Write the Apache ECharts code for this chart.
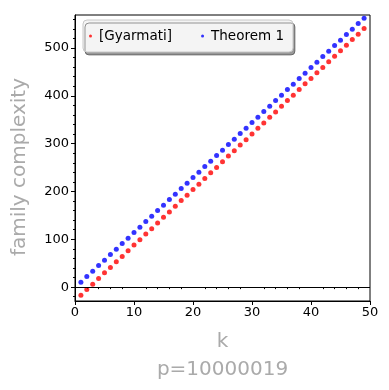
<!DOCTYPE html>
<html>
<head>
    <meta charset="utf-8"/>
    <style>
        html, body { margin: 0; padding: 0; background: #fff; }
        #main { width: 389px; height: 390px; }
    </style>
</head>
<body>
<div id="main"></div>
<script src="https://cdn.jsdelivr.net/npm/echarts@6/dist/echarts.min.js"></script>
<script type="text/javascript">
var ks = [];
for (var i = 1; i <= 49; i++) ks.push(i);

// [Gyarmati], k = 1..49
var gyarmati = [-17, -5, 6, 18, 30, 41, 53, 64, 76, 88,
    99, 111, 122, 134, 146, 157, 169, 181, 192, 204,
    215, 227, 239, 250, 262, 274, 285, 297, 308, 320,
    332, 343, 355, 366, 378, 390, 401, 413, 425, 436,
    448, 459, 471, 483, 494, 506, 518, 529, 541];
// Theorem 1, k = 1..49
var theorem1 = [10, 22, 33, 45, 56, 68, 79, 91, 102, 114,
    125, 137, 148, 160, 171, 183, 194, 206, 217, 229,
    240, 252, 263, 275, 286, 298, 309, 321, 332, 344,
    355, 367, 378, 390, 401, 413, 424, 436, 447, 459,
    470, 482, 493, 505, 516, 528, 539, 551, 562];

var yTicks = [0, 100, 200, 300, 400, 500];
var yMinor = [-20, 20, 40, 60, 80, 120, 140, 160, 180, 220, 240, 260, 280,
    320, 340, 360, 380, 420, 440, 460, 480, 520, 540, 560];
var xMinor = [2, 4, 6, 8, 12, 14, 16, 18, 22, 24, 26, 28, 32, 34, 36, 38, 42, 44, 46, 48];

var font = 'DejaVu Sans';
var yMin = -29, yMax = 569;

function pairs(vals) {
    var out = [];
    for (var i = 0; i < vals.length; i++) out.push([ks[i], vals[i]]);
    return out;
}

var myChart = echarts.init(document.getElementById('main'));

var option = {
    animation: false,
    textStyle: { fontFamily: font },
    grid: {
        left: 75, right: 19, top: 15, bottom: 89,
        containLabel: false,
        outerBoundsMode: 'none',
        show: true, borderColor: '#000', borderWidth: 1
    },
    legend: {
        left: 83, top: 20,
        padding: [9, 9, 9, 6],
        backgroundColor: '#f4f4f4',
        borderColor: '#c8c8c8',
        borderWidth: 1,
        borderRadius: 4,
        shadowBlur: 0,
        shadowColor: 'rgba(0,0,0,0.4)',
        shadowOffsetX: 2,
        shadowOffsetY: 3,
        icon: 'circle',
        itemWidth: 3,
        itemHeight: 3,
        itemGap: 29,
        textStyle: { fontFamily: font, fontSize: 13.5, color: '#000', padding: [0, 0, 0, 2] },
        data: ['[Gyarmati]', 'Theorem 1']
    },
    xAxis: [{
        type: 'value', min: 0, max: 50, interval: 10,
        name: 'k\np=10000019', nameLocation: 'middle', nameGap: 27,
        nameTextStyle: { fontFamily: font, fontSize: 20, color: '#aaaaaa', lineHeight: 28, verticalAlign: 'top' },
        axisLine: { onZero: false, lineStyle: { color: '#000', width: 1 } },
        axisTick: { length: 4, lineStyle: { color: '#000' } },
        axisLabel: { fontFamily: font, fontSize: 13, color: '#000', margin: 5 },
        splitLine: { show: false }
    }, {
        type: 'value', min: 0, max: 50, position: 'bottom',
        axisLine: { show: false },
        axisTick: { length: 2, customValues: xMinor, lineStyle: { color: '#000' } },
        axisLabel: { show: false },
        splitLine: { show: false }
    }],
    yAxis: [{
        type: 'value', min: yMin, max: yMax,
        name: 'family complexity', nameLocation: 'middle', nameGap: 45,
        nameTextStyle: { fontFamily: font, fontSize: 20, color: '#aaaaaa', padding: [0, 18, 0, 0] },
        axisLine: { onZero: false, lineStyle: { color: '#000', width: 1 } },
        axisTick: { length: 4, customValues: yTicks, lineStyle: { color: '#000' } },
        axisLabel: { fontFamily: font, fontSize: 13, color: '#000', margin: 6, customValues: yTicks },
        splitLine: { show: false }
    }, {
        type: 'value', min: yMin, max: yMax, position: 'left',
        axisLine: { show: false },
        axisTick: { length: 2, customValues: yMinor, lineStyle: { color: '#000' } },
        axisLabel: { show: false },
        splitLine: { show: false }
    }],
    series: [{
        name: '[Gyarmati]',
        type: 'scatter',
        symbolSize: 5,
        itemStyle: { color: '#ff0000' },
        data: pairs(gyarmati),
        markLine: {
            silent: true, symbol: 'none', label: { show: false },
            lineStyle: { color: '#000', width: 1, type: 'solid' },
            data: [{ yAxis: 0 }]
        },
        z: 3
    }, {
        name: 'Theorem 1',
        type: 'scatter',
        symbolSize: 5,
        itemStyle: { color: '#0000ff' },
        data: pairs(theorem1),
        z: 3
    }]
};

myChart.setOption(option);
</script>
</body>
</html>
